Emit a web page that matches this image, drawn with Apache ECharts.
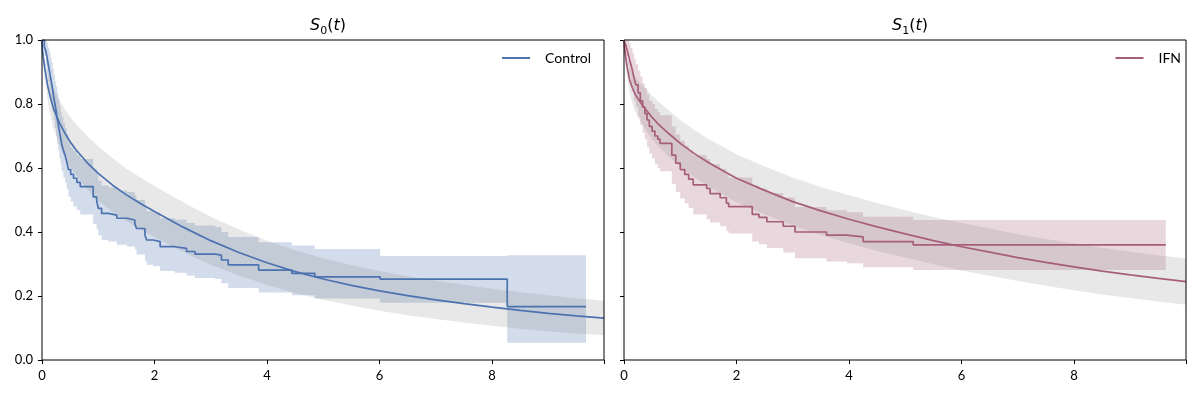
<!DOCTYPE html>
<html>
<head>
<meta charset="utf-8">
<script src="https://cdn.jsdelivr.net/npm/echarts@6/dist/echarts.min.js"></script>
<style>html,body{margin:0;padding:0;background:#fff}#c{width:1200px;height:400px}</style>
</head>
<body>
<div id="c"></div>
<script>
// Kaplan-Meier, Control
const ctrlT  = [0,0.04,0.07,0.09,0.11,0.13,0.15,0.17,0.19,0.21,0.23,0.25,0.27,0.29,0.31,0.33,0.35,0.38,0.41,0.44,0.47,0.51,0.56,0.62,0.68,0.91,0.97,1.0,1.06,1.18,1.33,1.51,1.65,1.68,1.83,1.86,1.98,2.1,2.36,2.57,2.72,3.08,3.19,3.31,3.85,4.44,4.85,6.01,8.27,9.67];
const ctrlS  = [1.0,0.98,0.965,0.945,0.925,0.905,0.885,0.865,0.845,0.82,0.80,0.78,0.755,0.735,0.715,0.695,0.675,0.655,0.64,0.62,0.595,0.58,0.568,0.555,0.542,0.51,0.5,0.474,0.458,0.453,0.443,0.4375,0.427,0.411,0.39,0.375,0.37,0.354,0.349,0.339,0.331,0.328,0.3125,0.297,0.281,0.271,0.26,0.253,0.167,0.167];
const ctrlLo = [1.0,0.95,0.92,0.895,0.87,0.845,0.82,0.80,0.775,0.75,0.725,0.70,0.675,0.655,0.63,0.61,0.59,0.57,0.555,0.535,0.51,0.495,0.48,0.468,0.455,0.425,0.41,0.39,0.375,0.37,0.36,0.355,0.345,0.33,0.31,0.298,0.293,0.278,0.273,0.264,0.256,0.253,0.24,0.225,0.211,0.202,0.192,0.179,0.054,0.054];
const ctrlHi = [1.0,1.0,1.0,0.99,0.975,0.96,0.945,0.93,0.91,0.89,0.87,0.855,0.835,0.815,0.795,0.775,0.76,0.74,0.725,0.705,0.68,0.665,0.655,0.64,0.628,0.598,0.585,0.56,0.545,0.54,0.53,0.525,0.515,0.50,0.478,0.465,0.46,0.443,0.438,0.428,0.42,0.416,0.40,0.384,0.368,0.358,0.347,0.325,0.327,0.327];

// Kaplan-Meier, IFN
const ifnT  = [0,0.03,0.06,0.09,0.12,0.15,0.18,0.21,0.25,0.29,0.33,0.37,0.41,0.45,0.50,0.55,0.60,0.64,0.85,0.92,1.0,1.08,1.15,1.23,1.47,1.53,1.71,1.82,1.86,2.28,2.40,2.54,2.83,3.04,3.6,3.96,4.25,5.14,9.63];
const ifnS  = [1.0,0.985,0.965,0.945,0.925,0.905,0.88,0.86,0.835,0.81,0.79,0.77,0.75,0.73,0.715,0.70,0.69,0.677,0.64,0.615,0.595,0.58,0.565,0.547,0.536,0.52,0.507,0.49,0.479,0.455,0.446,0.432,0.418,0.40,0.39,0.385,0.37,0.36,0.36];
const ifnLo = [1.0,0.95,0.92,0.89,0.865,0.84,0.81,0.79,0.76,0.735,0.71,0.69,0.665,0.645,0.63,0.612,0.60,0.59,0.55,0.525,0.505,0.49,0.475,0.455,0.44,0.43,0.418,0.403,0.395,0.37,0.362,0.35,0.336,0.318,0.308,0.302,0.29,0.281,0.281];
const ifnHi = [1.0,1.0,1.0,0.99,0.975,0.96,0.94,0.925,0.905,0.885,0.865,0.85,0.83,0.81,0.80,0.785,0.775,0.765,0.73,0.705,0.685,0.67,0.655,0.64,0.628,0.612,0.598,0.58,0.57,0.545,0.536,0.522,0.508,0.478,0.468,0.462,0.448,0.4375,0.4375];

// Parametric fits (read at these times)
const fitT   = [0,0.01,0.02,0.05,0.1,0.15,0.2,0.3,0.4,0.5,0.6,0.8,1.0,1.25,1.5,1.75,2,2.5,3,3.5,4,4.5,5,5.5,6,6.5,7,7.5,8,8.5,9,9.5,9.99];
const fit0S  = [1.0,0.965,0.95,0.91,0.858,0.82,0.788,0.745,0.711,0.682,0.658,0.617,0.583,0.547,0.516,0.489,0.464,0.416,0.373,0.336,0.304,0.276,0.253,0.233,0.216,0.201,0.188,0.176,0.165,0.155,0.146,0.138,0.131];
const fit0Lo = [1.0,0.955,0.935,0.88,0.813,0.765,0.726,0.675,0.636,0.604,0.578,0.534,0.498,0.463,0.434,0.408,0.384,0.338,0.298,0.264,0.235,0.209,0.188,0.17,0.154,0.14,0.128,0.117,0.107,0.098,0.09,0.083,0.077];
const fit0Hi = [1.0,0.975,0.965,0.94,0.903,0.875,0.85,0.815,0.786,0.76,0.738,0.70,0.668,0.631,0.598,0.57,0.544,0.494,0.448,0.408,0.373,0.343,0.318,0.296,0.278,0.262,0.248,0.235,0.223,0.212,0.202,0.193,0.185];
const fit1S  = [1.0,0.975,0.96,0.92,0.875,0.85,0.83,0.803,0.78,0.758,0.739,0.707,0.677,0.645,0.617,0.592,0.568,0.53,0.495,0.466,0.44,0.416,0.394,0.373,0.354,0.337,0.32,0.305,0.291,0.278,0.266,0.255,0.245];
const fit1Lo = [1.0,0.965,0.945,0.892,0.835,0.802,0.776,0.743,0.715,0.69,0.669,0.635,0.604,0.571,0.543,0.517,0.493,0.455,0.42,0.391,0.365,0.341,0.32,0.299,0.28,0.263,0.247,0.232,0.218,0.205,0.194,0.183,0.173];
const fit1Hi = [1.0,0.985,0.975,0.948,0.915,0.898,0.884,0.863,0.845,0.826,0.809,0.779,0.75,0.719,0.691,0.667,0.643,0.605,0.57,0.541,0.515,0.491,0.468,0.447,0.428,0.411,0.393,0.378,0.364,0.351,0.338,0.327,0.317];

const groupNames = ['Control', 'IFN'];
const xTickLabels = ['0','2','4','6','8'];

const BLUE = '#4C72B0', RED = '#A65E7A';
const FONT = 'Lato';

function pairs(x, y) { return x.map((t, i) => [t, y[i]]); }

// shaded band drawn as one polygon from the lower/upper arrays
function band(g, x, lo, hi, color, stepped) {
  return {
    type: 'custom', xAxisIndex: g, yAxisIndex: g, silent: true, z: 1,
    data: x.map((t, i) => [t, lo[i], hi[i]]),
    encode: { x: 0, y: [1, 2] },
    renderItem: function (params, api) {
      if (params.dataIndex !== 0) return null;
      const up = [], dn = [];
      for (let i = 0; i < x.length; i++) {
        const pu = api.coord([x[i], hi[i]]);
        const pd = api.coord([x[i], lo[i]]);
        if (stepped && i > 0) {
          up.push([pu[0], api.coord([x[i], hi[i - 1]])[1]]);
          dn.push([pd[0], api.coord([x[i], lo[i - 1]])[1]]);
        }
        up.push(pu); dn.push(pd);
      }
      return { type: 'polygon', shape: { points: up.concat(dn.reverse()) }, style: { fill: color } };
    }
  };
}

function xAxis(g) {
  return {
    type: 'value', gridIndex: g, min: 0, max: 9.99, interval: 2,
    axisLine: { show: false }, splitLine: { show: false },
    axisTick: { show: true, length: 4, lineStyle: { color: '#000', width: 1 } },
    axisLabel: { color: '#000', fontFamily: FONT, fontSize: 13, margin: 9,
      formatter: v => xTickLabels[Math.round(v / 2)] ?? '' }
  };
}
function yAxis(g, showLabels) {
  return {
    type: 'value', gridIndex: g, min: 0, max: 1, interval: 0.2,
    axisLine: { show: false }, splitLine: { show: false },
    axisTick: { show: true, length: 4, lineStyle: { color: '#000', width: 1 } },
    axisLabel: { show: showLabels, color: '#000', fontFamily: FONT, fontSize: 13, margin: 9,
      formatter: v => v.toFixed(1) }
  };
}

const titleRich = {
  i: { fontFamily: 'DejaVu Sans', fontStyle: 'italic', fontWeight: 'normal', fontSize: 16, color: '#000', lineHeight: 22, verticalAlign: 'middle' },
  n: { fontFamily: 'DejaVu Sans', fontWeight: 'normal', fontSize: 16, color: '#000', lineHeight: 22, verticalAlign: 'middle' },
  sub: { fontFamily: 'DejaVu Sans', fontWeight: 'normal', fontSize: 11, color: '#000', lineHeight: 14, verticalAlign: 'bottom' }
};
const legendCommon = {
  icon: 'path://M0,0 H28 V2 H0 Z', itemWidth: 28, itemHeight: 2, padding: 0, top: 51,
  textStyle: { fontFamily: FONT, fontSize: 14, color: '#000', padding: [0, 0, 0, 10] }
};

const chart = echarts.init(document.getElementById('c'), null, { renderer: 'canvas' });
chart.setOption({
  animation: false,
  backgroundColor: '#fff',
  title: [
    { text: '{i|S}{sub|0}{n|(}{i|t}{n|)}', left: 323, top: 10, textAlign: 'center', textStyle: { fontWeight: 'normal', rich: titleRich } },
    { text: '{i|S}{sub|1}{n|(}{i|t}{n|)}', left: 905, top: 10, textAlign: 'center', textStyle: { fontWeight: 'normal', rich: titleRich } }
  ],
  legend: [
    Object.assign({ data: [groupNames[0]], right: 609 }, legendCommon),
    Object.assign({ data: [groupNames[1]], right: 19 }, legendCommon)
  ],
  grid: [
    { left: 42, top: 40, width: 562, height: 320, show: true, borderColor: '#000', borderWidth: 1, backgroundColor: 'transparent', z: 5 },
    { left: 624, top: 40, width: 562, height: 320, show: true, borderColor: '#000', borderWidth: 1, backgroundColor: 'transparent', z: 5 }
  ],
  xAxis: [xAxis(0), xAxis(1)],
  yAxis: [yAxis(0, true), yAxis(1, false)],
  series: [
    band(0, ctrlT, ctrlLo, ctrlHi, 'rgba(76,114,176,0.25)', true),
    band(0, fitT, fit0Lo, fit0Hi, 'rgba(128,128,128,0.18)', false),
    band(1, ifnT, ifnLo, ifnHi, 'rgba(166,94,122,0.25)', true),
    band(1, fitT, fit1Lo, fit1Hi, 'rgba(128,128,128,0.18)', false),
    { type: 'line', name: 'fit0', xAxisIndex: 0, yAxisIndex: 0, data: pairs(fitT, fit0S), symbol: 'none',
      lineStyle: { color: BLUE, width: 1.7 }, itemStyle: { color: BLUE }, z: 3 },
    { type: 'line', name: groupNames[0], xAxisIndex: 0, yAxisIndex: 0, data: pairs(ctrlT, ctrlS), symbol: 'none',
      step: 'end', lineStyle: { color: BLUE, width: 1.7 }, itemStyle: { color: BLUE }, z: 3 },
    { type: 'line', name: 'fit1', xAxisIndex: 1, yAxisIndex: 1, data: pairs(fitT, fit1S), symbol: 'none',
      lineStyle: { color: RED, width: 1.7 }, itemStyle: { color: RED }, z: 3 },
    { type: 'line', name: groupNames[1], xAxisIndex: 1, yAxisIndex: 1, data: pairs(ifnT, ifnS), symbol: 'none',
      step: 'end', lineStyle: { color: RED, width: 1.7 }, itemStyle: { color: RED }, z: 3 }
  ]
});
</script>
</body>
</html>
